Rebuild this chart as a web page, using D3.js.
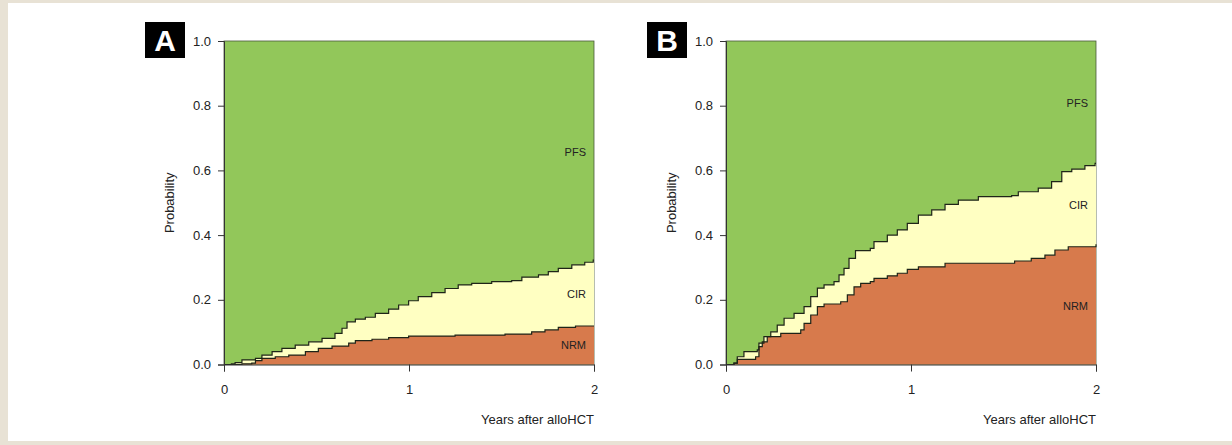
<!DOCTYPE html>
<html>
  <head>
    <title>Stacked cumulative incidence - PFS / CIR / NRM</title>
    <script src="https://d3js.org/d3.v7.min.js"></script>
    <style>
      body { margin: 0; background: #e8e2d5; }
      svg { display: block; }
    </style>
  </head>
  <body>
    <div id="chart"></div>
    <script>
      // panel letters and band labels
      var panelLetters = ["A", "B"];
      var bandLabels = ["PFS", "CIR", "NRM"];
      var xTicks = [0, 1, 2];
      var yTicks = [0, 0.2, 0.4, 0.6, 0.8, 1.0];

      // panel A: relapse + NRM (upper step curve), NRM (lower step curve)  [years, probability]
      var aUpper = [[0,0],[0.04,0.002],[0.06,0.006],[0.097,0.014],[0.17,0.019],[0.205,0.029],[0.26,0.04],
        [0.313,0.05],[0.385,0.06],[0.458,0.07],[0.53,0.081],[0.6,0.096],[0.638,0.112],[0.665,0.132],
        [0.71,0.14],[0.764,0.146],[0.818,0.158],[0.89,0.171],[0.944,0.184],[0.998,0.197],[1.05,0.21],
        [1.123,0.222],[1.195,0.235],[1.266,0.246],[1.339,0.251],[1.447,0.256],[1.555,0.259],[1.61,0.27],
        [1.7,0.277],[1.753,0.287],[1.807,0.297],[1.88,0.308],[1.95,0.316],[1.996,0.323],[2,0.323]];
      var aLower = [[0,0],[0.097,0.002],[0.15,0.004],[0.17,0.012],[0.205,0.019],[0.277,0.024],[0.35,0.029],
        [0.44,0.04],[0.51,0.05],[0.584,0.057],[0.674,0.066],[0.71,0.074],[0.8,0.078],[0.89,0.083],
        [0.998,0.088],[1.249,0.091],[1.519,0.094],[1.663,0.101],[1.735,0.107],[1.807,0.115],[1.9,0.119],[2,0.119]];

      // panel B
      var bUpper = [[0,0],[0.043,0.004],[0.061,0.024],[0.097,0.04],[0.169,0.045],[0.178,0.066],[0.205,0.086],
        [0.242,0.101],[0.277,0.122],[0.314,0.143],[0.368,0.158],[0.422,0.179],[0.458,0.21],[0.494,0.236],
        [0.53,0.246],[0.584,0.256],[0.611,0.277],[0.638,0.297],[0.665,0.328],[0.7,0.352],[0.78,0.359],
        [0.8,0.38],[0.872,0.4],[0.926,0.416],[0.98,0.436],[1.04,0.462],[1.112,0.478],[1.184,0.495],
        [1.256,0.508],[1.364,0.519],[1.544,0.522],[1.58,0.534],[1.688,0.545],[1.76,0.565],[1.815,0.596],
        [1.869,0.604],[1.94,0.615],[1.995,0.622],[2,0.622]];
      var bLower = [[0,0],[0.043,0.004],[0.061,0.016],[0.16,0.024],[0.178,0.055],[0.196,0.07],[0.223,0.086],
        [0.296,0.096],[0.404,0.107],[0.422,0.127],[0.458,0.153],[0.494,0.179],[0.53,0.187],[0.62,0.194],
        [0.656,0.215],[0.692,0.24],[0.728,0.251],[0.78,0.256],[0.8,0.266],[0.872,0.274],[0.926,0.282],
        [0.98,0.294],[1.04,0.302],[1.184,0.313],[1.56,0.32],[1.65,0.328],[1.724,0.338],[1.778,0.354],
        [1.85,0.364],[2,0.372]];

      // label heights (probability) where the band names sit
      var aLabelY = [0.645, 0.205, 0.047];
      var bLabelY = [0.795, 0.48, 0.17];

      var W = 1232, H = 445;
      var svg = d3.select("#chart").append("svg").attr("width", W).attr("height", H);

      svg.append("rect").attr("x", 8).attr("y", 3).attr("width", W - 8).attr("height", 438).attr("fill", "#fff");

      var colPFS = "#92c75a", colCIR = "#ffffc2", colNRM = "#d77a4c";
      var font = "'Liberation Sans', Arial, sans-serif";

      var panels = [
        { letter: panelLetters[0], left: 224, upper: aUpper, lower: aLower, labelY: aLabelY },
        { letter: panelLetters[1], left: 726, upper: bUpper, lower: bLower, labelY: bLabelY }
      ];

      var plotTop = 41, plotBottom = 364.5, pw = 370;

      panels.forEach(function(p) {
        var x = d3.scaleLinear().domain([0, 2]).range([p.left, p.left + pw]);
        var y = d3.scaleLinear().domain([0, 1]).range([plotBottom, plotTop]);
        var g = svg.append("g");

        // PFS fills the whole box
        g.append("rect")
          .attr("x", x(0)).attr("y", y(1))
          .attr("width", x(2) - x(0)).attr("height", y(0) - y(1))
          .attr("fill", colPFS).attr("stroke", "#4a5a3a").attr("stroke-width", 0.8);

        var area = d3.area().curve(d3.curveStepAfter)
          .x(function(d) { return x(d[0]); })
          .y0(y(0))
          .y1(function(d) { return y(d[1]); });
        var line = d3.line().curve(d3.curveStepAfter)
          .x(function(d) { return x(d[0]); })
          .y(function(d) { return y(d[1]); });

        g.append("path").datum(p.upper).attr("d", area).attr("fill", colCIR);
        g.append("path").datum(p.lower).attr("d", area).attr("fill", colNRM);
        g.append("path").datum(p.upper).attr("d", line).attr("fill", "none").attr("stroke", "#1e2418").attr("stroke-width", 1.2);
        g.append("path").datum(p.lower).attr("d", line).attr("fill", "none").attr("stroke", "#1e2418").attr("stroke-width", 1.2);

        // axes
        var ya = g.append("g").attr("transform", "translate(" + x(0) + ",0)")
          .call(d3.axisLeft(y).tickValues(yTicks).tickFormat(d3.format(".1f")).tickSize(6).tickPadding(7));
        var xa = g.append("g").attr("transform", "translate(0," + y(0) + ")")
          .call(d3.axisBottom(x).tickValues(xTicks).tickFormat(d3.format("d")).tickSize(7).tickPadding(13));
        [ya, xa].forEach(function(a) {
          a.selectAll("path").attr("stroke", "#333");
          a.selectAll("line").attr("stroke", "#333");
          a.selectAll("text").attr("font-family", font).attr("font-size", 13).attr("fill", "#222");
        });

        g.append("text").text("Probability")
          .attr("transform", "translate(" + (x(0) - 50) + "," + ((plotTop + plotBottom) / 2) + ") rotate(-90)")
          .attr("text-anchor", "middle").attr("font-family", font).attr("font-size", 13).attr("fill", "#222");

        g.append("text").text("Years after alloHCT")
          .attr("x", x(2)).attr("y", 424)
          .attr("text-anchor", "end").attr("font-family", font).attr("font-size", 13).attr("fill", "#222");

        bandLabels.forEach(function(lab, i) {
          g.append("text").text(lab)
            .attr("x", x(2) - 8).attr("y", y(p.labelY[i]))
            .attr("text-anchor", "end").attr("font-family", font).attr("font-size", 11).attr("fill", "#222");
        });

        // panel letter box
        g.append("rect").attr("x", x(0) - 79).attr("y", 22).attr("width", 40).attr("height", 36).attr("fill", "#000");
        g.append("text").text(p.letter)
          .attr("x", x(0) - 59).attr("y", 50.5)
          .attr("text-anchor", "middle").attr("font-family", font).attr("font-weight", "bold")
          .attr("font-size", 30).attr("fill", "#fff");
      });
    </script>
  </body>
</html>
